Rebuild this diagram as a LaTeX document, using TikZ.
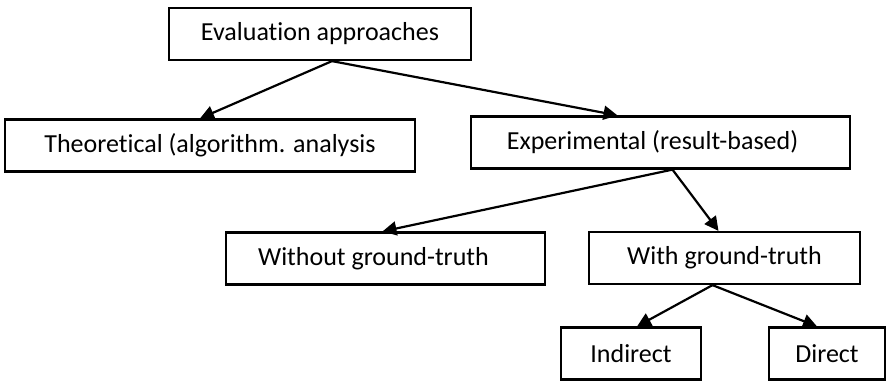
\documentclass[tikz,border=0pt]{standalone}
\usepackage{fontspec}
\setmainfont[Ligatures=NoCommon]{Carlito}
\usepackage{tikz}
\usetikzlibrary{arrows.meta, positioning}
\tikzstyle{approach} = [rectangle, draw=black, line width=1.1pt, minimum height=26pt, inner sep=0pt, text centered, font=\fontsize{13}{15}\selectfont]
\tikzstyle{arrow} = [line width=1.1pt, -{Triangle[length=7pt, width=7pt]}]

\begin{document}
\begin{tikzpicture}[x=0.5pt, y=-0.5pt]
    \useasboundingbox (0,0) rectangle (886,382);
    \node (ev) [approach, minimum width=151pt] at (320,34) {Evaluation approaches};
    \node (theo) [approach, minimum width=205pt] at (210,145.5) {Theoretical (algorithm. analysis};
    \node (expe) [approach, minimum width=189.5pt] at (660.5,142.5) {Experimental (result-based)\kern8pt};
    \node (without) [approach, minimum width=159.5pt] at (385.5,258.5) {Without ground-truth\kern12pt};
    \node (with) [approach, minimum width=135.5pt] at (724.5,258) {With ground-truth};
    \node (indirect) [approach, minimum width=70pt] at (631,353.5) {Indirect};
    \node (direct) [approach, minimum width=58pt] at (827,353.5) {Direct};

    \foreach \i/\a/\j/\b in {ev/6/theo/-5, ev/6/expe/-21.5, expe/6/without/-1.5, expe/6/with/-3, with/-6/indirect/3, with/-6/direct/-5} {
        \draw [arrow] ([xshift=\a pt]\i.south) -- ([xshift=\b pt]\j.north);
    }
\end{tikzpicture}
\end{document}
